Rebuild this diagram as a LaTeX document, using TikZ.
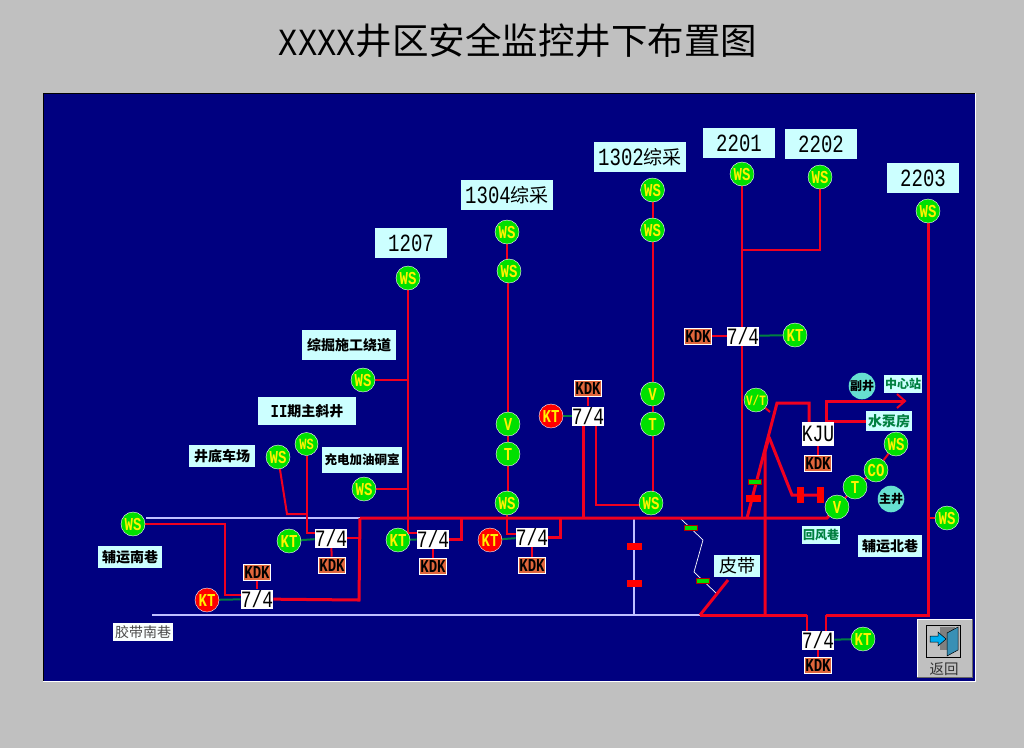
\documentclass[tikz,border=0pt]{standalone}
\usepackage{fontspec}
\usepackage{graphicx}
\usetikzlibrary{backgrounds}
\setmainfont{Noto Sans CJK SC}
\newfontfamily\latn{Liberation Mono}
\definecolor{panelbg}{HTML}{000080}
\definecolor{pagebg}{HTML}{C0C0C0}
\definecolor{tagbg}{HTML}{CCFFFF}
\definecolor{kdkbg}{HTML}{E0663C}
\definecolor{lampgreen}{HTML}{00E000}
\definecolor{linkgreen}{HTML}{008040}
\definecolor{wirered}{HTML}{F00020}
\definecolor{lampcyan}{HTML}{66E0D0}
\newcommand{\tl}[1]{\raisebox{-1pt}{\scalebox{1}[1.3]{#1}}}
\newcommand{\nm}[1]{{\latn \tl{#1}}}
\tikzset{
  gball/.style={circle,fill=lampgreen,draw=white,line width=0.4pt,minimum size=24pt,inner sep=0pt,text=yellow,font=\latn\bfseries\fontsize{14}{14}\selectfont},
  rball/.style={gball,fill=red},
  cball/.style={circle,fill=lampcyan,minimum size=25pt,inner sep=0pt,text=black,font=\bfseries\fontsize{12}{12}\selectfont},
  tagbox/.style={fill=tagbg,inner sep=0pt,text=black,font=\fontsize{14}{14}\selectfont\bfseries},
  gtagbox/.style={tagbox,text=linkgreen,font=\fontsize{12}{12}\selectfont\bfseries},
  bigbox/.style={fill=tagbg,inner sep=0pt,minimum height=30pt,text=black,font=\fontsize{19}{19}\selectfont},
  ratebox/.style={fill=white,inner sep=0pt,minimum width=32pt,minimum height=19pt,text=black,font=\latn\fontsize{18}{18}\selectfont},
  kdkbox/.style={fill=kdkbg,draw=white,line width=0.6pt,inner sep=0pt,minimum width=27pt,minimum height=16pt,text=black,font=\latn\bfseries\fontsize{14}{14}\selectfont},
  barh/.style={fill=red,inner sep=0pt,minimum width=15pt,minimum height=7pt},
  barv/.style={fill=red,inner sep=0pt,minimum width=7pt,minimum height=16pt},
  gtag/.style={fill=lampgreen,draw=red!70!black,line width=0.8pt,inner sep=0pt,minimum width=13pt,minimum height=5pt},
  wire/.style={draw=wirered,line width=2pt},
  trunk/.style={draw=wirered,line width=3pt},
  glink/.style={draw=linkgreen,line width=2pt},
  rail/.style={draw=white!75!blue,line width=1.5pt},
}
\begin{document}
\begin{tikzpicture}[x=1pt,y=-1pt]
      \useasboundingbox (0,0) rectangle (1024,748);
      \draw (518,41) node (title){\fontsize{36.5}{36.5}\selectfont{\latn\fontsize{32}{32}\selectfont\raisebox{-1pt}{\scalebox{1}[1.2]{XXXX}}}井区安全监控井下布置图};
      % labels
      \draw
        (411,243) node[bigbox,minimum width=72pt] (t1207){\nm{1207}}
        (507,195) node[bigbox,minimum width=92pt] (t1304){\nm{1304}综采}
        (640,157) node[bigbox,minimum width=92pt] (t1302){\nm{1302}综采}
        (739,143) node[bigbox,minimum width=72pt] (t2201){\nm{2201}}
        (821,144) node[bigbox,minimum width=72pt] (t2202){\nm{2202}}
        (923,178) node[bigbox,minimum width=72pt] (t2203){\nm{2203}}
        (349,345) node[tagbox,minimum width=94pt,minimum height=30pt] (trao){综掘施工绕道}
        (307,411) node[tagbox,minimum width=98pt,minimum height=28pt] (tzhu){\nm{II}期主斜井}
        (222,456) node[tagbox,minimum width=66pt,minimum height=22pt] (tche){井底车场}
        (362,460) node[tagbox,minimum width=80pt,minimum height=26pt,font=\fontsize{12.5}{12.5}\selectfont\bfseries] (tchong){充电加油硐室}
        (130,557) node[tagbox,minimum width=64pt,minimum height=22pt] (tfnan){辅运南巷}
        (143,632) node[tagbox,fill=white!90!tagbg,text=black!70,minimum width=60pt,minimum height=18pt,font=\fontsize{14}{14}\selectfont] (tjnan){胶带南巷}
        (737,566) node[tagbox,minimum width=46pt,minimum height=22pt,font=\fontsize{18}{18}\selectfont] (tpi){皮带}
        (821,535) node[gtagbox,minimum width=38pt,minimum height=18pt] (thui){回风巷}
        (890,546) node[tagbox,minimum width=64pt,minimum height=22pt] (tfbei){辅运北巷}
        (903,384) node[gtagbox,minimum width=38pt,minimum height=18pt] (tzx){中心站}
        (889,421) node[gtagbox,minimum width=46pt,minimum height=20pt,font=\fontsize{14}{14}\selectfont\bfseries] (tsb){水泵房};
      % lamps
      \draw
        (408,278) node[gball] (w1){\tl{WS}}
        (507,232) node[gball] (w2){\tl{WS}}
        (509,271) node[gball] (w3){\tl{WS}}
        (652.5,190) node[gball] (w4){\tl{WS}}
        (652.5,230) node[gball] (w5){\tl{WS}}
        (742,174) node[gball] (w6){\tl{WS}}
        (820,177) node[gball] (w7){\tl{WS}}
        (928,211) node[gball] (w8){\tl{WS}}
        (363,380) node[gball] (w9){\tl{WS}}
        (364,489) node[gball] (w10){\tl{WS}}
        (278,457) node[gball] (w11){\tl{WS}}
        (306.5,444) node[gball,minimum size=23pt,font=\latn\bfseries\fontsize{12}{12}\selectfont] (w12){\tl{WS}}
        (133,524) node[gball] (w13){\tl{WS}}
        (507,503) node[gball] (w14){\tl{WS}}
        (651,503) node[gball] (w15){\tl{WS}}
        (896,444) node[gball] (w16){\tl{WS}}
        (947,518) node[gball] (w17){\tl{WS}}
        (508,424) node[gball] (v1){\tl{V}}
        (652.5,394) node[gball] (v2){\tl{V}}
        (837,507) node[gball] (v3){\tl{V}}
        (508,454) node[gball] (t1){\tl{T}}
        (652.5,424) node[gball] (t2){\tl{T}}
        (855,487) node[gball] (t3){\tl{T}}
        (876,470) node[gball] (co){\tl{CO}}
        (756,400) node[gball,font=\latn\bfseries\fontsize{11}{11}\selectfont] (vt){\tl{V/T}}
        (289,541) node[gball] (k1){\tl{KT}}
        (398,540) node[gball] (k2){\tl{KT}}
        (795,335) node[gball] (k3){\tl{KT}}
        (863,639) node[gball] (k4){\tl{KT}}
        (207,600) node[rball] (k5){\tl{KT}}
        (490,540) node[rball] (k6){\tl{KT}}
        (551,416) node[rball] (k7){\tl{KT}}
        (862,386) node[cball] (fj){副井}
        (891,499) node[cball] (zj){主井};
      % substations
      \draw
        (331,538) node[ratebox] (s1){\tl{7/4}}
        (433,539) node[ratebox] (s2){\tl{7/4}}
        (532,537) node[ratebox] (s3){\tl{7/4}}
        (257,599) node[ratebox] (s4){\tl{7/4}}
        (588,416) node[ratebox] (s5){\tl{7/4}}
        (743,336) node[ratebox] (s6){\tl{7/4}}
        (818,640) node[ratebox] (s7){\tl{7/4}}
        (818,434) node[ratebox,minimum height=24pt] (kju){\tl{KJU}}
        (332,565) node[kdkbox] (d1){\tl{KDK}}
        (433,566) node[kdkbox] (d2){\tl{KDK}}
        (532,565) node[kdkbox] (d3){\tl{KDK}}
        (257,572) node[kdkbox] (d4){\tl{KDK}}
        (588,388) node[kdkbox] (d5){\tl{KDK}}
        (698,336) node[kdkbox] (d6){\tl{KDK}}
        (818,665) node[kdkbox] (d7){\tl{KDK}}
        (818,463) node[kdkbox] (d8){\tl{KDK}};
      % junctions
      \draw
        (146,518) coordinate (a0)
        (360,518) coordinate (a1)
        (461,518) coordinate (a3)
        (560,518) coordinate (a5)
        (583,518) coordinate (a6)
        (634,518) coordinate (a7)
        (742,518) coordinate (a8)
        (747,518) coordinate (a9)
        (827,518) coordinate (a11)
        (152,615) coordinate (b0)
        (634,615) coordinate (b1)
        (700,615) coordinate (b2)
        (765,615) coordinate (b3)
        (807,615) coordinate (b4)
        (826,615) coordinate (b5)
        (928,615) coordinate (b6)
        (728,580) coordinate (b7)
        (359,600) coordinate (c1)
        (225,524) coordinate (c2)
        (225,595) coordinate (c3)
        (287,514) coordinate (c4)
        (306.5,514) coordinate (c5)
        (306.5,533) coordinate (c6)
        (408,380) coordinate (c7)
        (408,489) coordinate (c8)
        (408,533) coordinate (c9)
        (508,534) coordinate (c10)
        (596,505) coordinate (c11)
        (742,250) coordinate (c12)
        (820,250) coordinate (c13)
        (777,403) coordinate (e1)
        (809,403) coordinate (e2)
        (769,437) coordinate (e3)
        (770,412) coordinate (e4)
        (792,495) coordinate (e5)
        (765,452) coordinate (e6)
        (826,401) coordinate (e7)
        (905,401) coordinate (e8)
        (826,421) coordinate (e9)
        (928,518) coordinate (e10)
        (820,495) coordinate (e11)
        (680,518) coordinate (f0)
        (703,540) coordinate (f1)
        (694,572) coordinate (f2)
        (717,594) coordinate (f3);
      \begin{pgfonlayer}{background}
      \fill[pagebg] (0,0) rectangle (1024,748);
      \draw[fill=panelbg,draw=white,line width=1pt] (43,93) rectangle (975,681);
      \draw[black,line width=1pt] (43,681) -- (43,93) -- (975,93);
      % white lines
      \begin{scope}[rail]
        \draw (a0) to (a1);
        \draw (b0) to (b2);
        \draw (a7) to (b1);
      \end{scope}
      \begin{scope}[white,line width=0.7pt]
        \draw (f0) -- (f1) -- (f2) -- (f3);
      \end{scope}
      % red lines
      \begin{scope}[wire]
        \draw (w13) -- (c2) -- (c3) -- (s4 |- c3);
        \draw (w11) -- (c4) -- (c5);
        \draw (w12) -- (c6) -- (s1 |- c6);
        \draw (s1) -- (s1 -| c1);
        \draw (w1) -- (c9) -- (s2 |- c9);
        \draw (w9) -- (c7);
        \draw (w10) -- (c8);
        \draw (w2) -- (w2 |- w3);
        \draw (v1) -- (v1 |- w3);
        \draw (v1) -- (t1);
        \draw (t1) -- (t1 |- w14);
        \draw (w14) -- (w14 |- c10) -- (s3 |- c10);
        \draw (w4) -- (w5);
        \draw (w5) -- (v2);
        \draw (v2) -- (t2);
        \draw (t2) -- (t2 |- w15);
        \draw (s5 -| c11) -- (c11) -- (c11 -| w15);
        \draw (w6) -- (a8);
        \draw (w7) -- (c13) -- (c12);
        \draw (d6) -- (s6);
        \draw (d1) -- (s1);
        \draw (d2) -- (s2);
        \draw (d3) -- (s3);
        \draw (d4) -- (s4);
        \draw (d5) -- (s5);
        \draw (d7) -- (s7);
        \draw (d8) -- (kju);
        \draw (vt) -- (e4);
        \draw (w16) -- (co);
        \draw (co) -- (t3);
        \draw (t3) -- (v3);
        \draw (w17) -- (e10);
        \draw (b5) -- (s7 -| b5);
        \draw (b4) -- (s7 -| b4);
        \draw (e8) ++(-8,-7) -- (e8) -- ++(-8,7);
      \end{scope}
      \begin{scope}[trunk]
        \draw (a1) -- (a11) -- (v3);
        \draw (a1) -- (c1) -- (s4);
        \draw (s2) -- (s2 -| a3) -- (a3);
        \draw (s3) -- (s3 -| a5) -- (a5);
        \draw (s5 -| a6) -- (a6);
        \draw (a9) -- (e1) -- (e2) -- (kju -| e2);
        \draw (e3) -- (e5) -- (e11);
        \draw (e3) -- (e6) -- (b3);
        \draw (b2) -- (b4);
        \draw (b2) -- (b7);
        \draw (kju -| e7) -- (e7) -- (e8);
        \draw (e9) -- (tsb);
        \draw (b5) -- (b6) -- (w8);
      \end{scope}
      % monitor links
      \begin{scope}[glink]
        \draw (k1) -- (s1);
        \draw (k2) -- (s2);
        \draw (k6) -- (s3);
        \draw (k5) -- (s4);
        \draw (k7) -- (s5);
        \draw (s6) -- (k3);
        \draw (s7) -- (k4);
      \end{scope}
      \end{pgfonlayer}
      % doors and tags
      \draw
        (634,546) node[barh] (g1){}
        (634,583) node[barh] (g2){}
        (753,498) node[barh] (g3){}
        (800,495) node[barv] (g4){}
        (820,495) node[barv] (g5){}
        (755,482) node[gtag] (g6){}
        (691,528) node[gtag] (g7){}
        (703,581) node[gtag] (g8){};
      % back button
      \fill[pagebg] (917,619) rectangle (972,677);
      \draw[white,line width=1pt] (917,677) -- (917,619) -- (972,619);
      \draw[black!60,line width=1pt] (972,619) -- (972,677) -- (917,677);
      \draw[fill=pagebg,draw=black] (926,625) rectangle (960,657);
      \fill[black!50] (940,627) -- (955,627) -- (955,650) -- (940,650) -- cycle;
      \draw[fill=cyan!70!black,draw=black,line width=0.5pt] (947,633) -- (958,627) -- (958,650) -- (947,656) -- cycle;
      \draw[fill=cyan,draw=black,line width=0.5pt] (930,636) -- (938,636) -- (938,632) -- (946,639) -- (938,646) -- (938,642) -- (930,642) -- cycle;
      \draw (944,669) node[text=black!80,font=\fontsize{14.5}{14.5}\selectfont] (back){返回};
    \end{tikzpicture}
\end{document}
